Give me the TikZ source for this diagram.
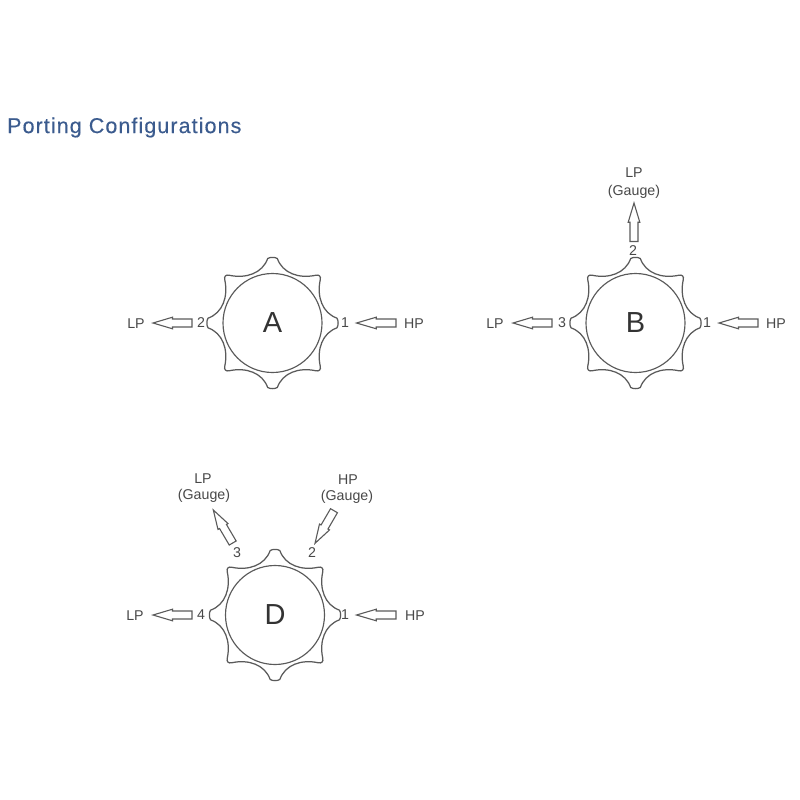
\documentclass[tikz,border=0pt]{standalone}
\usepackage{fontspec}
\setmainfont{Liberation Sans}
\newfontfamily\titlefont[LetterSpace=5,FakeBold=0.3]{Liberation Sans}
\usetikzlibrary{calc}
\definecolor{linegray}{HTML}{5A5A5A}
\definecolor{textgray}{HTML}{484848}
\definecolor{titleblue}{HTML}{3B5B8E}
\tikzset{
  knobline/.style={draw=linegray,line width=1.25pt,line join=round},
  hub/.style={circle,draw=linegray,line width=1.15pt,minimum size=99pt,inner sep=0pt,font=\fontsize{29}{29}\selectfont,text=black!80},
  lbl/.style={font=\fontsize{14.2}{16}\selectfont,text=textgray,inner sep=0pt},
  blockarrow/.style={draw=linegray,line width=1.1pt,line join=miter,to path={
    ($(\tikztostart)!4pt!90:(\tikztotarget)$)
    -- ($(\tikztostart)!.5!(\tikztotarget)!4pt!90:(\tikztotarget)$)
    -- ($(\tikztostart)!.5!(\tikztotarget)!5.8pt!90:(\tikztotarget)$)
    -- (\tikztotarget)
    -- ($(\tikztostart)!.5!(\tikztotarget)!5.8pt!-90:(\tikztotarget)$)
    -- ($(\tikztostart)!.5!(\tikztotarget)!4pt!-90:(\tikztotarget)$)
    -- ($(\tikztostart)!4pt!-90:(\tikztotarget)$) -- cycle}}
}
\newcommand{\knobbody}[2]{%
  \begin{scope}[shift={(#1,#2)}]
    \draw[knobline] (64.5,-4.8)
      foreach \a in {0,90,180,270} {
        .. controls ([rotate=\a]50,-10) and ([rotate=\a]44,-26) .. ([rotate=\a]47.8,-43.5)
        .. controls ([rotate=\a]48.6,-46.5) and ([rotate=\a]46.5,-48.6) .. ([rotate=\a]43.5,-47.8)
        .. controls ([rotate=\a]26,-44) and ([rotate=\a]10,-50) .. ([rotate=\a]4.8,-64.5)
        .. controls ([rotate=\a]2.5,-66) and ([rotate=\a]-2.5,-66) .. ([rotate=\a]-4.8,-64.5)
      } -- cycle;
  \end{scope}}
\begin{document}
\begin{tikzpicture}[x=1pt,y=-1pt]
\useasboundingbox (0,0) rectangle (800,800);
\node[anchor=west,inner sep=0pt,text=titleblue,font=\titlefont\fontsize{21.5}{23}\selectfont] (title) at (7,127.5) {Porting Configurations};

% A
\knobbody{272.5}{323}
\node[hub] (A) at (272.5,323) {A};
\node[lbl] (aLP) at (136,324) {LP};
\node[lbl] (aHP) at (414,324) {HP};
\node[lbl] (a2) at (201,323) {2};
\node[lbl] (a1) at (345,323) {1};
\coordinate (aLs) at (192,323); \coordinate (aLt) at (153,323);
\coordinate (aRs) at (396,323); \coordinate (aRt) at (356.5,323);
\draw[blockarrow] (aLs) to (aLt);
\draw[blockarrow] (aRs) to (aRt);

% B
\knobbody{635.5}{323}
\node[hub] (B) at (635.5,323) {B};
\node[lbl] (bLP) at (495,324) {LP};
\node[lbl] (bHP) at (776,324) {HP};
\node[lbl] (b3) at (562,323) {3};
\node[lbl] (b1) at (707,323) {1};
\node[lbl] (b2) at (633,251) {2};
\node[lbl] (bG1) at (634,173) {LP};
\node[lbl] (bG2) at (634,192) {(Gauge)};
\coordinate (bLs) at (552,323); \coordinate (bLt) at (513,323);
\coordinate (bRs) at (758,323); \coordinate (bRt) at (719,323);
\coordinate (bUs) at (634,241.5); \coordinate (bUt) at (634,203);
\draw[blockarrow] (bLs) to (bLt);
\draw[blockarrow] (bRs) to (bRt);
\draw[blockarrow] (bUs) to (bUt);

% D
\knobbody{275}{615}
\node[hub] (D) at (275,615) {D};
\node[lbl] (dLP) at (135,616) {LP};
\node[lbl] (dHP) at (415,616) {HP};
\node[lbl] (d4) at (201,615) {4};
\node[lbl] (d1) at (345,615) {1};
\node[lbl] (d3) at (237,553) {3};
\node[lbl] (d2) at (312,553) {2};
\node[lbl] (dG1a) at (203,479) {LP};
\node[lbl] (dG1b) at (204,495.5) {(Gauge)};
\node[lbl] (dG2a) at (348,480) {HP};
\node[lbl] (dG2b) at (347,496.5) {(Gauge)};
\coordinate (dLs) at (192,615); \coordinate (dLt) at (153,615);
\coordinate (dRs) at (396,615); \coordinate (dRt) at (356.5,615);
\coordinate (dUs) at (232.7,543); \coordinate (dUt) at (213.3,510);
\coordinate (dVs) at (334,510.7); \coordinate (dVt) at (315,543.3);
\draw[blockarrow] (dLs) to (dLt);
\draw[blockarrow] (dRs) to (dRt);
\draw[blockarrow] (dUs) to (dUt);
\draw[blockarrow] (dVs) to (dVt);
\end{tikzpicture}
\end{document}
